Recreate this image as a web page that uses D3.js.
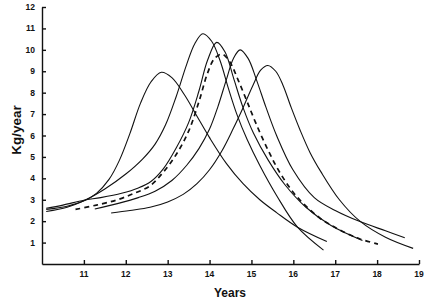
<!DOCTYPE html>
<html>
<head>
<meta charset="utf-8">
<script src="https://cdn.jsdelivr.net/npm/d3@7"></script>
<style>
  body { margin: 0; background: #fff; }
  svg { display: block; }
  .tick-label { font-family: "Liberation Sans", Arial, sans-serif; font-weight: bold; font-size: 8.5px; fill: #111; }
  .axis-title { font-family: "Liberation Sans", Arial, sans-serif; font-weight: bold; font-size: 12px; fill: #111; }
</style>
</head>
<body>
<div id="chart"></div>
<script>
////////////////////////////////////////////////////////////////////////
// Data: [year, kg/year]

const curveA = [[10.1,2.55],[10.6,2.7],[11.0,2.95],[11.3,3.3],[11.6,3.95],[11.85,4.85],[12.1,6.1],[12.35,7.5],[12.6,8.5],[12.85,8.95],[13.1,8.7],[13.4,7.9],[13.7,6.9],[14.0,5.9],[14.4,4.7],[14.8,3.75],[15.2,3.0],[15.6,2.4],[16.1,1.72],[16.8,1.05]];
const curveB = [[10.1,2.45],[10.6,2.65],[11.0,2.95],[11.5,3.5],[12.0,4.2],[12.4,4.9],[12.7,5.6],[12.95,6.5],[13.2,7.8],[13.45,9.3],[13.65,10.3],[13.84,10.75],[14.05,10.4],[14.25,9.5],[14.45,8.2],[14.65,7.0],[14.9,5.8],[15.2,4.6],[15.6,3.2],[16.1,1.72],[16.72,0.65]];
const curveC = [[10.1,2.6],[10.5,2.75],[11.0,2.98],[11.4,3.1],[11.9,3.3],[12.3,3.55],[12.6,3.85],[12.9,4.45],[13.2,5.4],[13.5,6.6],[13.75,8.1],[13.95,9.5],[14.17,10.35],[14.37,9.9],[14.57,8.7],[14.8,7.3],[15.05,6.1],[15.4,4.85],[15.8,3.7],[16.3,2.65],[16.9,1.8],[17.65,1.1]];
const curveD = [[11.26,2.57],[11.8,2.82],[12.3,3.1],[12.7,3.4],[13.1,3.9],[13.45,4.6],[13.75,5.4],[14.0,6.3],[14.2,7.35],[14.4,8.6],[14.57,9.6],[14.73,10.0],[14.92,9.6],[15.12,8.6],[15.35,7.3],[15.6,6.0],[15.99,4.4],[16.5,3.1],[17.0,2.5],[17.59,1.98],[18.2,1.55],[18.66,1.23]];
const curveE = [[11.65,2.38],[12.1,2.5],[12.58,2.65],[13.0,2.9],[13.37,3.25],[13.7,3.75],[14.0,4.4],[14.3,5.3],[14.56,6.3],[14.8,7.3],[15.04,8.36],[15.22,9.05],[15.39,9.27],[15.58,9.0],[15.75,8.36],[15.95,7.3],[16.16,6.26],[16.4,5.2],[16.66,4.3],[17.1,3.0],[17.59,2.0],[18.2,1.25],[18.86,0.73]];
// mean curve (dashed)
const curveMean = [[10.8,2.55],[11.3,2.75],[11.8,3.0],[12.2,3.3],[12.58,3.65],[12.9,4.3],[13.2,5.1],[13.5,6.2],[13.75,7.6],[13.95,8.9],[14.12,9.6],[14.3,9.8],[14.48,9.45],[14.68,8.6],[14.88,7.66],[15.1,6.6],[15.4,5.3],[15.7,4.2],[16.08,3.15],[16.63,2.15],[17.1,1.6],[17.59,1.17],[18.02,0.93]];

const solidCurves = [curveA, curveB, curveC, curveD, curveE];

const xTicks = [11, 12, 13, 14, 15, 16, 17, 18, 19];
const yTicks = [1, 2, 3, 4, 5, 6, 7, 8, 9, 10, 11, 12];
const xTitle = "Years";
const yTitle = "Kg/year";

////////////////////////////////////////////////////////////////////////
// Setup

let width = 427, height = 303;

let xScale = d3.scaleLinear().domain([10, 19]).range([42, 419]);
let yScale = d3.scaleLinear().domain([0, 12]).range([264, 7]);

let svg = d3.select("#chart").append("svg")
  .attr("width", width)
  .attr("height", height);

////////////////////////////////////////////////////////////////////////
// Axes (ticks point inward, labels drawn separately)

svg.append("g")
  .attr("transform", "translate(0," + yScale(0) + ")")
  .call(d3.axisTop(xScale).tickValues(xTicks).tickSize(4).tickSizeOuter(0).tickFormat(""));

svg.append("g")
  .attr("transform", "translate(" + xScale(10) + ",0)")
  .call(d3.axisRight(yScale).tickValues(yTicks).tickSize(4).tickSizeOuter(0).tickFormat(""));

svg.selectAll(".domain, .tick line")
  .attr("stroke", "#111")
  .attr("stroke-width", 1.4);

svg.append("g").selectAll("text")
  .data(xTicks)
  .enter().append("text")
  .attr("class", "tick-label")
  .attr("x", d => xScale(d))
  .attr("y", yScale(0) + 13)
  .attr("text-anchor", "middle")
  .text(d => d);

svg.append("g").selectAll("text")
  .data(yTicks)
  .enter().append("text")
  .attr("class", "tick-label")
  .attr("x", xScale(10) - 7)
  .attr("y", d => yScale(d) + 3)
  .attr("text-anchor", "end")
  .text(d => d);

svg.append("text")
  .attr("class", "axis-title")
  .attr("x", 230)
  .attr("y", 297)
  .attr("text-anchor", "middle")
  .text(xTitle);

svg.append("text")
  .attr("class", "axis-title")
  .style("font-size", "13.5px")
  .attr("transform", "translate(21,130) rotate(-90)")
  .attr("text-anchor", "middle")
  .text(yTitle);

////////////////////////////////////////////////////////////////////////
// Curves

let line = d3.line()
  .x(d => xScale(d[0]))
  .y(d => yScale(d[1]))
  .curve(d3.curveCatmullRom.alpha(0.5));

svg.append("g").selectAll("path")
  .data(solidCurves)
  .enter().append("path")
  .attr("d", line)
  .attr("fill", "none")
  .attr("stroke", "#111")
  .attr("stroke-width", 1.1);

svg.append("path")
  .attr("d", line(curveMean))
  .attr("fill", "none")
  .attr("stroke", "#111")
  .attr("stroke-width", 1.7)
  .attr("stroke-dasharray", "5,4");
</script>
</body>
</html>
